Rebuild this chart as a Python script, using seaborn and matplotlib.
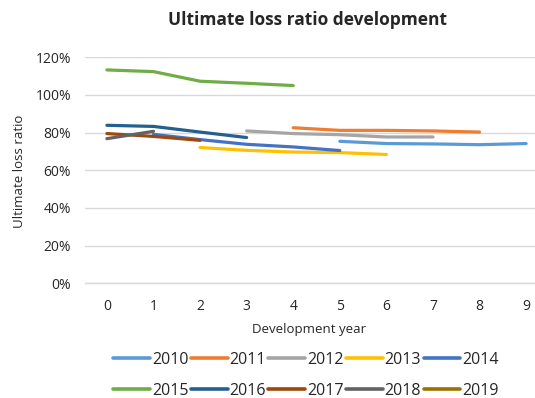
import numpy as np
import pandas as pd
import matplotlib
matplotlib.use("Agg")
import matplotlib.pyplot as plt
import seaborn as sns

# ---- data ----
years = ["2010", "2011", "2012", "2013", "2014", "2015", "2016", "2017", "2018", "2019"]
dev_2010 = [5, 6, 7, 8, 9]
val_2010 = [0.754, 0.742, 0.740, 0.736, 0.742]
dev_2011 = [4, 5, 6, 7, 8]
val_2011 = [0.826, 0.812, 0.812, 0.809, 0.803]
dev_2012 = [3, 4, 5, 6, 7]
val_2012 = [0.809, 0.795, 0.789, 0.777, 0.777]
dev_2013 = [2, 3, 4, 5, 6]
val_2013 = [0.721, 0.706, 0.697, 0.694, 0.684]
dev_2014 = [1, 2, 3, 4, 5]
val_2014 = [0.791, 0.763, 0.738, 0.724, 0.705]
dev_2015 = [0, 1, 2, 3, 4]
val_2015 = [1.133, 1.124, 1.073, 1.062, 1.050]
dev_2016 = [0, 1, 2, 3]
val_2016 = [0.839, 0.833, 0.803, 0.774]
dev_2017 = [0, 1, 2]
val_2017 = [0.795, 0.780, 0.759]
dev_2018 = [0, 1]
val_2018 = [0.768, 0.807]
dev_2019 = [0]
val_2019 = [0.770]

colors = ["#5B9BD5", "#ED7D31", "#A5A5A5", "#FFC000", "#4472C4",
          "#70AD47", "#255E91", "#9E480E", "#636363", "#997300"]
y_ticks = [0, 0.2, 0.4, 0.6, 0.8, 1.0, 1.2]
x_ticks = [0, 1, 2, 3, 4, 5, 6, 7, 8, 9]

devs = [dev_2010, dev_2011, dev_2012, dev_2013, dev_2014,
        dev_2015, dev_2016, dev_2017, dev_2018, dev_2019]
vals = [val_2010, val_2011, val_2012, val_2013, val_2014,
        val_2015, val_2016, val_2017, val_2018, val_2019]
rows = []
for yr, d, v in zip(years, devs, vals):
    for di, vi in zip(d, v):
        rows.append({"year": yr, "dev": di, "ratio": vi})
df = pd.DataFrame(rows)

sns.set_theme(style="white")
FONT = "Open Sans"
plt.rcParams["font.family"] = [FONT, "DejaVu Sans"]
txt = "#262626"

fig = plt.figure(figsize=(5.35, 3.98), dpi=100)
ax = fig.add_axes([85 / 535, 1 - 283.3 / 398, (548 - 85) / 535, (283.3 - 57.3) / 398])

sns.lineplot(data=df, x="dev", y="ratio", hue="year", hue_order=years,
             palette=colors, linewidth=2.3, ax=ax, legend=True)
for ln in ax.lines:
    ln.set_solid_capstyle("round")

ax.set_xlim(-0.47, 9.47)
ax.set_ylim(0, 1.2)
ax.set_yticks(y_ticks)
ax.set_yticklabels([f"{int(round(t*100))}%" for t in y_ticks], fontsize=10, color=txt)
ax.set_xticks(x_ticks)
ax.set_xticklabels([str(t) for t in x_ticks], fontsize=10, color=txt)
ax.tick_params(axis="x", length=0, pad=11)
ax.tick_params(axis="y", length=0, pad=10)
ax.yaxis.grid(True, color="#D9D9D9", linewidth=1)
ax.set_axisbelow(True)
for s in ["top", "right", "left"]:
    ax.spines[s].set_visible(False)
ax.spines["bottom"].set_color("#D9D9D9")
ax.spines["bottom"].set_linewidth(1)

ax.set_xlabel("")
ax.set_ylabel("")
fig.text(309 / 535, 1 - 329 / 398, "Development year", ha="center", va="center",
         fontsize=9.5, color=txt)
fig.text(20 / 535, 1 - 171 / 398, "Ultimate loss ratio", ha="center", va="center",
         rotation=90, fontsize=9.5, color=txt)
fig.text(307 / 535, 1 - 20 / 398, "Ultimate loss ratio development", ha="center",
         va="center", fontsize=12.5, fontweight="bold", color=txt)

handles, labels = ax.get_legend_handles_labels()
ax.get_legend().remove()
# reorder so that column-major filling yields row-major reading
order = []
for c in range(5):
    order += [c, c + 5]
handles = [handles[i] for i in order]
labels = [labels[i] for i in order]
leg = fig.legend(handles, labels, loc="center", ncol=5,
                 bbox_to_anchor=(306 / 535, 1 - 375.5 / 398), frameon=False,
                 fontsize=11.5, handlelength=2.3, handletextpad=0.12,
                 columnspacing=0.15, labelspacing=0.95)
for t in leg.get_texts():
    t.set_color(txt)
for h in leg.get_lines():
    h.set_linewidth(2.6)

fig.savefig("out.png", dpi=100)
